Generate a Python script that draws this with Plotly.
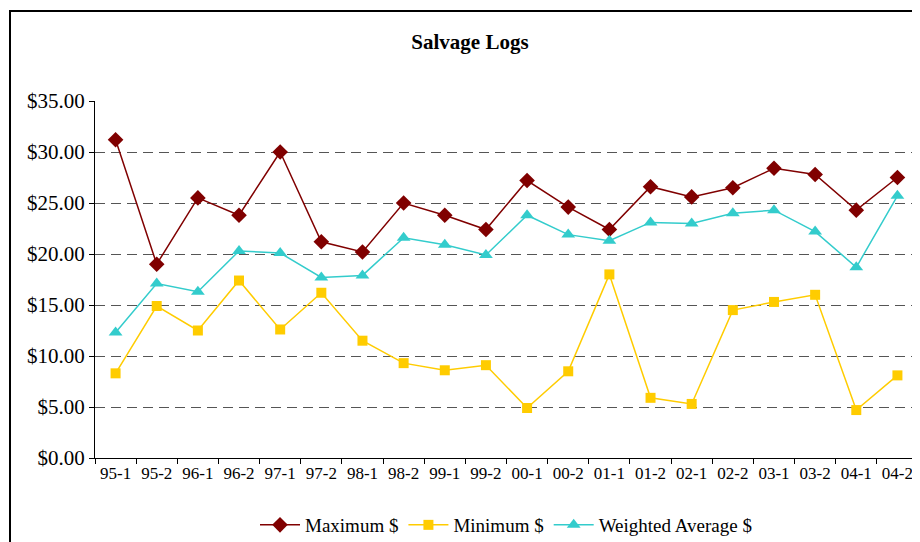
import plotly.graph_objects as go

categories = ["95-1", "95-2", "96-1", "96-2", "97-1", "97-2", "98-1", "98-2", "99-1", "99-2",
              "00-1", "00-2", "01-1", "01-2", "02-1", "02-2", "03-1", "03-2", "04-1", "04-2"]
maximum = [31.2, 19.0, 25.5, 23.8, 30.0, 21.2, 20.2, 25.0, 23.8, 22.4,
           27.2, 24.6, 22.4, 26.6, 25.6, 26.5, 28.4, 27.8, 24.3, 27.5]
minimum = [8.3, 14.9, 12.5, 17.4, 12.6, 16.2, 11.5, 9.3, 8.6, 9.1,
           4.9, 8.5, 18.0, 5.9, 5.3, 14.5, 15.3, 16.0, 4.7, 8.1]
weighted = [12.3, 17.1, 16.3, 20.3, 20.1, 17.7, 17.9, 21.6, 20.9, 19.9,
            23.8, 21.9, 21.3, 23.1, 23.0, 24.0, 24.3, 22.2, 18.7, 25.7]
y_ticks = [0, 5, 10, 15, 20, 25, 30, 35]

FONT = "Liberation Serif"

fig = go.Figure()
fig.add_trace(go.Scatter(x=categories, y=maximum, name="Maximum $", mode="lines+markers",
                         line=dict(color="#800000", width=1.5),
                         marker=dict(symbol="diamond", size=12, color="#800000")))
fig.add_trace(go.Scatter(x=categories, y=minimum, name="Minimum $", mode="lines+markers",
                         line=dict(color="#FFCC00", width=1.5),
                         marker=dict(symbol="square", size=10, color="#FFCC00")))
fig.add_trace(go.Scatter(x=categories, y=weighted, name="Weighted Average $", mode="lines+markers",
                         line=dict(color="#33CCCC", width=1.5),
                         marker=dict(symbol="triangle-up", size=12, color="#33CCCC")))

# page has an 8px body margin: figure pixel = reference pixel - 8
OFF = 8
W, H = 920 - OFF, 542 - OFF
PL, PR, PT, PB = 95 - OFF, 918 - OFF, 101 - OFF, 458 - OFF  # plot area in figure px
L, R, T, B = PL, W - PR, PT, H - PB
pw, ph = PR - PL, PB - PT


def px_x(x):
    return (x - OFF - PL) / pw


def px_y(y):
    return (PB - (y - OFF)) / ph


fig.update_layout(
    width=W, height=H,
    margin=dict(l=L, r=R, t=T, b=B, autoexpand=False),
    paper_bgcolor="white", plot_bgcolor="white",
    font=dict(family=FONT, size=17, color="black"),
    title=dict(text="<b>Salvage Logs</b>", x=px_x(470), xref="paper", xanchor="center",
               y=1 - (42 - OFF) / H, yanchor="middle",
               font=dict(size=21, family=FONT, color="black")),
    showlegend=True,
    legend=dict(orientation="h", x=px_x(506), xanchor="center", y=px_y(525),
                yanchor="middle", font=dict(size=19, family=FONT, color="black"),
                itemwidth=40, tracegroupgap=0),
    xaxis=dict(type="category", showline=True, linecolor="black", linewidth=1,
               ticks="outside", ticklen=5, tickcolor="black", tickson="boundaries",
               showgrid=False, tickfont=dict(size=17, family=FONT, color="black"),
               range=[-0.5, 19.5]),
    yaxis=dict(range=[0, 35], tickvals=y_ticks, tickformat="$.2f",
               showline=True, linecolor="black", linewidth=1,
               ticks="outside", ticklen=5, tickcolor="black",
               showgrid=True, gridcolor="#555555", gridwidth=1, griddash="10px,6px",
               zeroline=False, tickfont=dict(size=21, family=FONT, color="black")),
)

fig.add_shape(type="rect", xref="paper", yref="paper",
              x0=px_x(10), x1=px_x(960),
              y0=px_y(580), y1=px_y(11),
              line=dict(color="black", width=2), fillcolor="rgba(0,0,0,0)", layer="above")

fig.write_html("out.html")
